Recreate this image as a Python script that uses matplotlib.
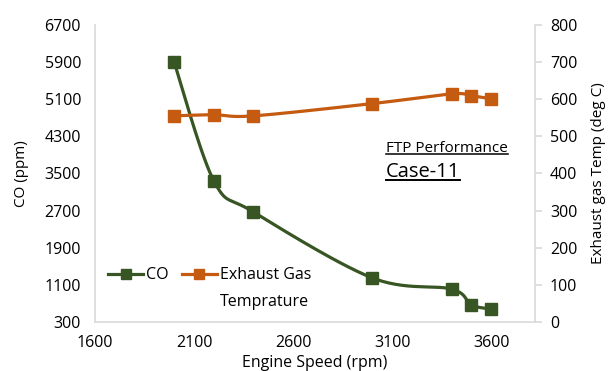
import numpy as np
import matplotlib
matplotlib.use("Agg")
import matplotlib.pyplot as plt
from matplotlib.lines import Line2D

plt.rcParams['font.family'] = ['Open Sans', 'DejaVu Sans']

speed = [2000, 2200, 2400, 3000, 3400, 3500, 3600]
co_ppm = [5890, 3340, 2670, 1250, 1010, 670, 580]
exhaust_temp = [555, 558, 555, 588, 614, 609, 601]

GREEN = '#375623'
ORANGE = '#C55A11'
GRID = '#D9D9D9'


def smooth(x, y, n=30):
    """Catmull-Rom style smoothing through the points (spreadsheet 'smoothed line')."""
    x = np.asarray(x, float)
    y = np.asarray(y, float)
    px = np.concatenate([[x[0]], x, [x[-1]]])
    py = np.concatenate([[y[0]], y, [y[-1]]])
    xs, ys = [], []
    for i in range(1, len(px) - 2):
        p0 = np.array([px[i - 1], py[i - 1]])
        p1 = np.array([px[i], py[i]])
        p2 = np.array([px[i + 1], py[i + 1]])
        p3 = np.array([px[i + 2], py[i + 2]])
        c1 = p1 + (p2 - p0) / 6.0
        c2 = p2 - (p3 - p1) / 6.0
        t = np.linspace(0, 1, n)[:, None]
        b = ((1 - t) ** 3) * p1 + 3 * ((1 - t) ** 2) * t * c1 + 3 * (1 - t) * t ** 2 * c2 + t ** 3 * p2
        xs.extend(b[:, 0])
        ys.extend(b[:, 1])
    return np.array(xs), np.array(ys)


fig = plt.figure(figsize=(6.09, 3.71), dpi=100)
ax = fig.add_axes([0.156, 0.132, 0.722, 0.801])
ax2 = ax.twinx()

# CO on the left axis
sx, sy = smooth(speed, co_ppm)
ax.plot(sx, sy, color=GREEN, lw=2.3, zorder=3)
ax.plot(speed, co_ppm, 's', color=GREEN, ms=9, zorder=4)

# Exhaust temperature on the right axis
tx, ty = smooth(speed, exhaust_temp)
ax2.plot(tx, ty, color=ORANGE, lw=2.3, zorder=3)
ax2.plot(speed, exhaust_temp, 's', color=ORANGE, ms=9, zorder=4)

ax.set_xlim(1600, 3820)
ax.set_ylim(300, 6700)
ax.set_yticks(np.arange(300, 6701, 800))
ax.set_xticks(np.arange(1600, 3601, 500))
ax2.set_ylim(0, 800)
ax2.set_yticks(np.arange(0, 801, 100))

for a in (ax, ax2):
    for s in a.spines.values():
        s.set_color(GRID)
        s.set_linewidth(1.2)
    a.spines['top'].set_visible(False)
    a.tick_params(labelsize=11.5, colors='black')
ax.spines['right'].set_visible(False)
ax2.spines['left'].set_visible(False)
ax2.spines['bottom'].set_visible(False)
ax.tick_params(axis='both', length=0, pad=9)
ax.tick_params(axis='y', pad=10)
ax2.tick_params(axis='y', length=5, color=GRID, width=1.2, pad=6)

ax.set_ylabel('CO (ppm)', fontsize=11, labelpad=11)
ax2.set_ylabel('Exhaust gas Temp (deg C)', fontsize=11, labelpad=10)
ax.set_xlabel('Engine Speed (rpm)', fontsize=11.5, labelpad=3)

# Legend
h1 = Line2D([], [], color=GREEN, lw=2.3, marker='s', ms=7)
h2 = Line2D([], [], color=ORANGE, lw=2.3, marker='s', ms=7)
leg = ax.legend([h1, h2], ['CO', 'Exhaust Gas'], ncol=2, frameon=False,
                fontsize=11.5, loc='upper left', bbox_to_anchor=(0.015, 0.205),
                handlelength=2.2, handletextpad=0.2, columnspacing=0.8,
                borderaxespad=0)

# Underlined annotation
t1 = fig.text(386 / 609, 1 - 148 / 371, 'FTP Performance', fontsize=11, va='center', ha='left')
t2 = fig.text(386 / 609, 1 - 172 / 371, 'Case-11', fontsize=14.5, va='center', ha='left')
fig.canvas.draw()
r = fig.canvas.get_renderer()

# Second line of the wrapped legend label
lb = leg.get_texts()[1].get_window_extent(renderer=r)
fig.text(lb.x0 / fig.bbox.width, (lb.y0 - 27) / fig.bbox.height, 'Temprature',
         fontsize=11.5, ha='left', va='bottom')

for t, off, lw in ((t1, 2.0, 1.1), (t2, 2.5, 1.4)):
    bb = t.get_window_extent(renderer=r)
    y = bb.y0 + off
    fig.add_artist(Line2D([bb.x0 / fig.bbox.width, bb.x1 / fig.bbox.width],
                          [y / fig.bbox.height, y / fig.bbox.height],
                          color='black', lw=lw, transform=fig.transFigure))

fig.savefig('out.png', dpi=100)
